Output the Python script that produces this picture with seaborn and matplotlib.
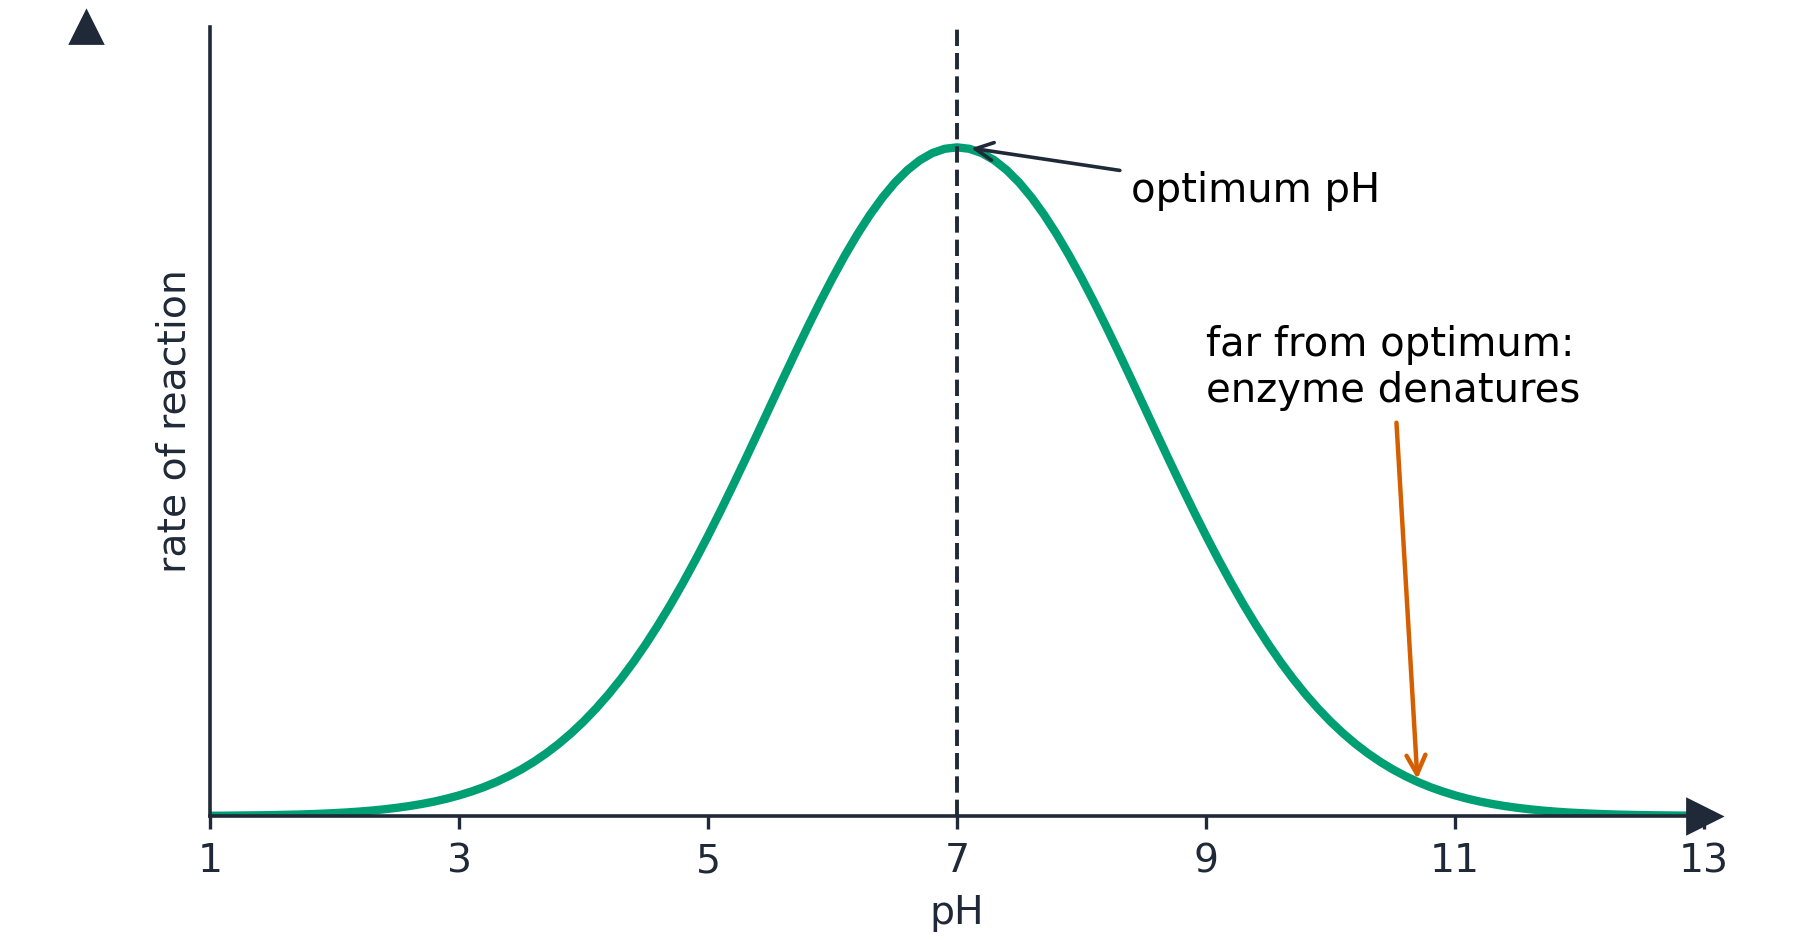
import matplotlib
matplotlib.use("Agg")
import matplotlib.pyplot as plt
import seaborn as sns
import pandas as pd

# ---- data ----
ph_values = [
    1.0, 1.1, 1.2, 1.3, 1.4, 1.5, 1.6, 1.7, 1.8, 1.9,
    2.0, 2.1, 2.2, 2.3, 2.4, 2.5, 2.6, 2.7, 2.8, 2.9,
    3.0, 3.1, 3.2, 3.3, 3.4, 3.5, 3.6, 3.7, 3.8, 3.9,
    4.0, 4.1, 4.2, 4.3, 4.4, 4.5, 4.6, 4.7, 4.8, 4.9,
    5.0, 5.1, 5.2, 5.3, 5.4, 5.5, 5.6, 5.7, 5.8, 5.9,
    6.0, 6.1, 6.2, 6.3, 6.4, 6.5, 6.6, 6.7, 6.8, 6.9,
    7.0,
    7.1, 7.2, 7.3, 7.4, 7.5, 7.6, 7.7, 7.8, 7.9, 8.0,
    8.1, 8.2, 8.3, 8.4, 8.5, 8.6, 8.7, 8.8, 8.9, 9.0,
    9.1, 9.2, 9.3, 9.4, 9.5, 9.6, 9.7, 9.8, 9.9, 10.0,
    10.1, 10.2, 10.3, 10.4, 10.5, 10.6, 10.7, 10.8, 10.9, 11.0,
    11.1, 11.2, 11.3, 11.4, 11.5, 11.6, 11.7, 11.8, 11.9, 12.0,
    12.1, 12.2, 12.3, 12.4, 12.5, 12.6, 12.7, 12.8, 12.9, 13.0,
]
rate_values = [
    0.0004, 0.0005, 0.0007, 0.0009, 0.0011, 0.0014, 0.0018, 0.0022, 0.0028, 0.0035,
    0.0044, 0.0054, 0.0067, 0.0082, 0.0101, 0.0123, 0.0149, 0.0180, 0.0216, 0.0259,
    0.0309, 0.0367, 0.0433, 0.0510, 0.0598, 0.0697, 0.0810, 0.0937, 0.1079, 0.1238,
    0.1413, 0.1607, 0.1819, 0.2050, 0.2300, 0.2570, 0.2859, 0.3166, 0.3492, 0.3834,
    0.4191, 0.4562, 0.4944, 0.5335, 0.5732, 0.6132, 0.6531, 0.6925, 0.7312, 0.7687,
    0.8046, 0.8385, 0.8701, 0.8990, 0.9247, 0.9471, 0.9658, 0.9806, 0.9913, 0.9978,
    1.0,
    0.9978, 0.9913, 0.9806, 0.9658, 0.9471, 0.9247, 0.8990, 0.8701, 0.8385, 0.8046,
    0.7687, 0.7312, 0.6925, 0.6531, 0.6132, 0.5732, 0.5335, 0.4944, 0.4562, 0.4191,
    0.3834, 0.3492, 0.3166, 0.2859, 0.2570, 0.2300, 0.2050, 0.1819, 0.1607, 0.1413,
    0.1238, 0.1079, 0.0937, 0.0810, 0.0697, 0.0598, 0.0510, 0.0433, 0.0367, 0.0309,
    0.0259, 0.0216, 0.0180, 0.0149, 0.0123, 0.0101, 0.0082, 0.0067, 0.0054, 0.0044,
    0.0035, 0.0028, 0.0022, 0.0018, 0.0014, 0.0011, 0.0009, 0.0007, 0.0005, 0.0004,
]
x_ticks = [1, 3, 5, 7, 9, 11, 13]
optimum_ph = 7
optimum_label = "optimum pH"
optimum_point = (7.07, 1.0)
optimum_text_pos = (8.4, 0.935)
denature_label = "far from optimum:\nenzyme denatures"
denature_point = (10.7, 0.047)
denature_text_pos = (9.0, 0.67)

df = pd.DataFrame({"pH": ph_values, "rate": rate_values})

# ---- styling ----
sns.set_theme(style="white")
plt.rcParams["font.family"] = ["DejaVu Sans"]
INK = "#1f2937"
GREEN = "#009e73"
ORANGE = "#d55e00"
FS = 14.2
FS_NOTE = 14.45

fig = plt.figure(figsize=(9, 4.735), dpi=200)
ax = fig.add_axes([0.1167, 0.1383, 0.83, 0.8332])

sns.lineplot(data=df, x="pH", y="rate", ax=ax, color=GREEN, linewidth=3.0,
             zorder=2)

ax.axvline(optimum_ph, color=INK, linewidth=1.4, dashes=(4.2, 1.8), zorder=3)

ax.set_xlim(1, 13)
ax.set_ylim(0, 1.18)
ax.set_xticks(x_ticks)
ax.set_xticklabels([str(t) for t in x_ticks])
ax.set_yticks([])

for side in ["top", "right"]:
    ax.spines[side].set_visible(False)
for side in ["left", "bottom"]:
    ax.spines[side].set_color(INK)
    ax.spines[side].set_linewidth(1.3)
    ax.spines[side].set_zorder(4)

ax.tick_params(axis="x", direction="out", length=4.5, width=1.2, color=INK,
               labelcolor=INK, labelsize=FS, pad=5, bottom=True)

ax.set_xlabel("pH", fontsize=FS, color=INK, labelpad=5)
ax.set_ylabel("rate of reaction", fontsize=FS, color=INK, labelpad=6)

# axis arrow heads
ax.plot(1, 0, ">", color=INK, markersize=12, transform=ax.transAxes,
        clip_on=False, zorder=5)
ax.plot(-0.083, 1, "^", color=INK, markersize=11.5, transform=ax.transAxes,
        clip_on=False, zorder=5)

ax.annotate(optimum_label, xy=optimum_point, xytext=optimum_text_pos,
            fontsize=FS_NOTE, color="black", ha="left", va="center",
            arrowprops=dict(arrowstyle="->", color=INK, lw=1.3,
                            mutation_scale=16))
ax.annotate(denature_label, xy=denature_point, xytext=denature_text_pos,
            fontsize=FS_NOTE, color="black", ha="left", va="center",
            arrowprops=dict(arrowstyle="->", color=ORANGE, lw=1.6,
                            mutation_scale=17))

fig.savefig("out.png", dpi=200, facecolor="white")
